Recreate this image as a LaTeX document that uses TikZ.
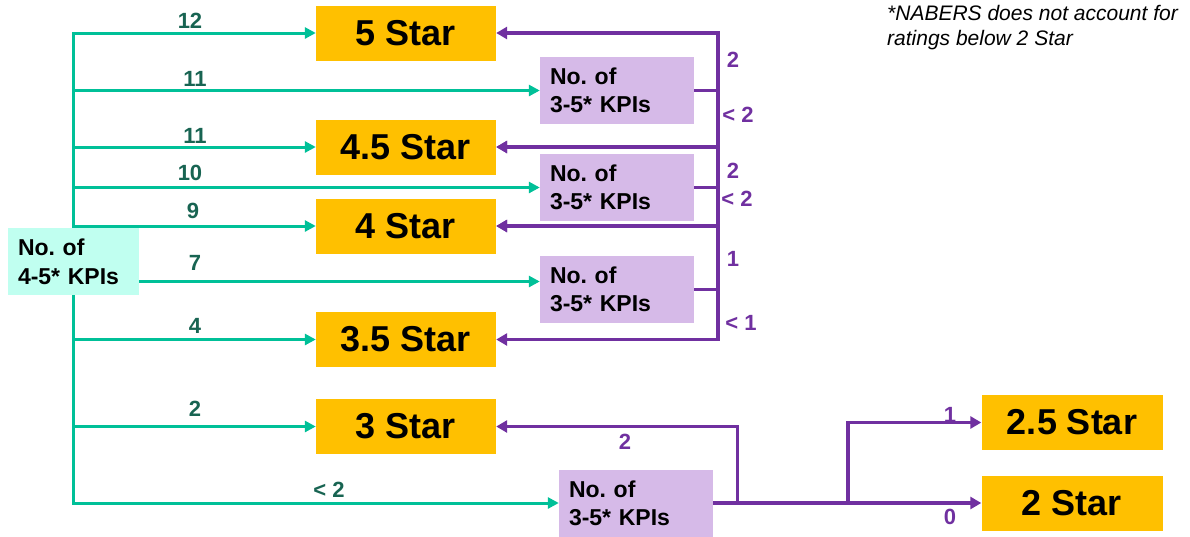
\documentclass[tikz,border=0pt]{standalone}
\usepackage{fontspec}
\setmainfont{Liberation Sans}
\usepackage{xcolor}
\usetikzlibrary{arrows.meta, calc}
\frenchspacing

\definecolor{staramber}{RGB}{255,192,0}
\definecolor{kpililac}{RGB}{214,186,232}
\definecolor{kpimint}{RGB}{192,255,240}
\definecolor{tealwire}{RGB}{0,192,152}
\definecolor{tealtext}{RGB}{24,100,82}
\definecolor{violetwire}{RGB}{112,48,160}

\tikzset{
  starbox/.style={fill=staramber, minimum width=180pt, minimum height=55pt,
    inner sep=0pt, font=\bfseries\fontsize{36}{40}\selectfont},
  kpibox/.style={fill=kpililac, minimum height=67pt, text width=134pt,
    inner xsep=10pt, inner ysep=0pt, align=left,
    font=\bfseries\fontsize{23}{28}\selectfont},
  mintbox/.style={fill=kpimint, minimum height=67pt, text width=111pt,
    inner xsep=10pt, inner ysep=0pt, align=left,
    font=\bfseries\fontsize{23}{29}\selectfont},
  tealline/.style={draw=tealwire, line width=3pt},
  tealarrow/.style={tealline, -{Triangle[length=11pt, width=11pt]}},
  violetline/.style={draw=violetwire, line width=3.5pt},
  violetarrow/.style={violetline, -{Triangle[length=11pt, width=12pt]}},
  tealnum/.style={text=tealtext, anchor=base, inner sep=0pt,
    font=\bfseries\fontsize{22}{24}\selectfont},
  violetnum/.style={text=violetwire, inner sep=0pt,
    font=\bfseries\fontsize{22}{24}\selectfont},
  footnote/.style={anchor=base west, align=left, inner sep=0pt,
    font=\itshape\fontsize{21}{25}\selectfont}
}

\begin{document}
\begin{tikzpicture}[x=1pt, y=-1pt]
  \useasboundingbox (0,0) rectangle (1190,536);
  %% rating boxes
  \node[starbox] (s5) at (406,33) {5 Star};
  \node[starbox] (s45) at (406,147) {4.5 Star};
  \node[starbox] (s4) at (406,226) {4 Star};
  \node[starbox] (s35) at (406,339.5) {3.5 Star};
  \node[starbox] (s3) at (406,426.5) {3 Star};
  \node[starbox, minimum width=181pt] (s25) at (1072,422.5) {2.5 Star};
  \node[starbox, minimum width=181pt] (s2) at (1072,503) {2 Star};
  %% second count boxes
  \node[kpibox] (k1) at (617,90.5) {No. of\\3-5* KPIs};
  \node[kpibox] (k2) at (617,187.5) {No. of\\3-5* KPIs};
  \node[kpibox] (k3) at (617,289.5) {No. of\\3-5* KPIs};
  \node[kpibox] (k4) at (636,503) {No. of\\3-5* KPIs};
  %% trunk of the first count, under its box
  \coordinate (trunk) at (73,0);
  \coordinate (rail) at (718,0);
  \coordinate (forkA) at (737.5,0);
  \coordinate (forkB) at (848,0);
  \draw[tealline, line cap=rect] (trunk |- s5.west) -- (trunk |- k4.west);
  \node[mintbox] (k45) at (73.5,261.5) {No. of\\4-5* KPIs};
  \foreach \rating in {s5,s45,s4,s35,s3,k1,k2,k4}
    \draw[tealarrow] (trunk |- \rating.west) -- (\rating.west);
  \coordinate (k3in) at ([yshift=8pt]k3.west);
  \draw[tealarrow] (k45.east |- k3in) -- (k3in);
  %% teal counts
  \node[tealnum] (n12) at (190,28) {12};
  \node[tealnum] (n11a) at (195,86) {11};
  \node[tealnum] (n11b) at (195,143) {11};
  \node[tealnum] (n10) at (190,180) {10};
  \node[tealnum] (n9) at (193,218) {9};
  \node[tealnum] (n7) at (195,270) {7};
  \node[tealnum] (n4) at (195,333) {4};
  \node[tealnum] (n2) at (195,416.5) {2};
  \node[tealnum] (nlt2) at (329,497) {< 2};
  %% violet rail: each box splits up and down
  \foreach \k/\hi/\lo in {k1/s5/s45, k2/s45/s4, k3/s4/s35} {
    \draw[violetline] (\k.east) -- (\k.east -| rail);
    \draw[violetarrow] (\k.east -| rail) |- (\hi.east);
    \draw[violetarrow] (\k.east -| rail) |- (\lo.east);
  }
  \draw[violetline] (k4.east) -- (k4.east -| forkB);
  \draw[violetarrow] (k4.east -| forkA) |- (s3.east);
  \draw[violetarrow] (k4.east -| forkB) |- (s25.west);
  \draw[violetarrow] (k4.east -| forkB) -- (s2.west);
  %% violet counts
  \node[violetnum] (v1) at (733,60) {2};
  \node[violetnum] (v2) at (738,115) {< 2};
  \node[violetnum] (v3) at (733,171) {2};
  \node[violetnum] (v4) at (737,199) {< 2};
  \node[violetnum] (v5) at (733,259) {1};
  \node[violetnum] (v6) at (741,323) {< 1};
  \node[violetnum] (v7) at (625,442) {2};
  \node[violetnum] (v8) at (950,415) {1};
  \node[violetnum] (v9) at (950,517) {0};
  %% note
  \node[footnote] (nabers) at (887,45) {*NABERS does not account for\\ratings below 2 Star};
\end{tikzpicture}
\end{document}
